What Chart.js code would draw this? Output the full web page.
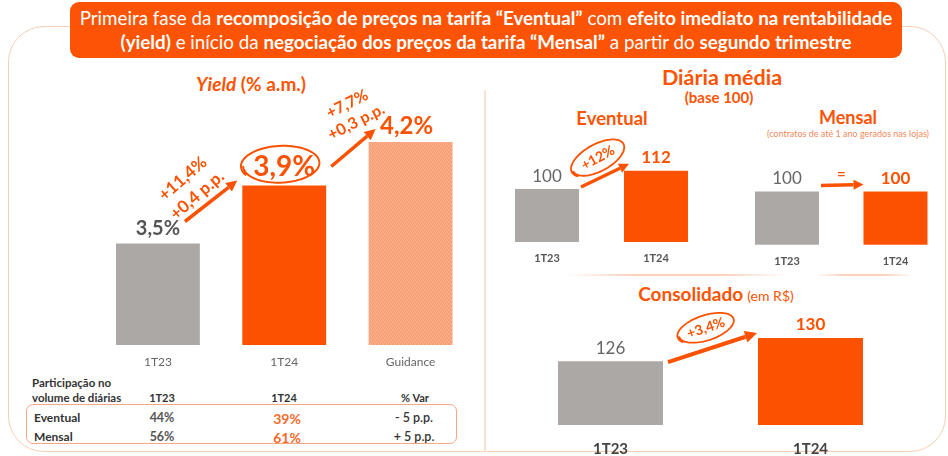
<!DOCTYPE html>
<html><head><meta charset="utf-8">
<script src="https://cdn.jsdelivr.net/npm/chart.js@4.4.1/dist/chart.umd.min.js"></script>
<style>
html,body{margin:0;padding:0;width:948px;height:456px;overflow:hidden;background:#fff;font-family:Lato,'Open Sans',sans-serif;}
#wrap{position:relative;width:948px;height:456px;overflow:hidden;}
.a{position:absolute;white-space:nowrap;}
.c{transform:translate(-50%,-50%);}
.l{transform:translate(0,-50%);}
#frame{left:8px;top:26px;width:938px;height:426px;border:1.5px solid #f7cfb4;border-radius:36px;box-sizing:border-box;}
#banner{left:70px;top:2px;width:832px;height:56px;background:#fc5404;border-radius:9px;color:#fff;text-align:center;font-size:18.8px;line-height:24px;padding-top:4px;box-sizing:border-box;}
#divider{left:484px;top:90px;width:1.5px;height:362px;background:#fde0d2;}
.sep{height:1.5px;background:linear-gradient(90deg,#fff,#fbd0bc 30%,#fbd0bc 70%,#fff);}
.or{color:#fc5404;}
.b{font-weight:bold;}
#tbox{left:26px;top:404px;width:431px;height:40px;border:1.5px solid #f6a886;border-radius:7px;box-sizing:border-box;}
.tb{font-size:11.5px;font-weight:bold;color:#333;}
.tv{font-size:12.5px;color:#555;font-weight:bold;}
canvas{position:absolute;}
</style></head>
<body><div id="wrap">
<div id="frame" class="a"></div>
<div id="banner" class="a">Primeira fase da <b>recomposição de preços na tarifa “Eventual”</b> com <b>efeito imediato na rentabilidade</b><br><b>(yield)</b> e início da <b>negociação dos preços da tarifa “Mensal”</b> a partir do <b>segundo trimestre</b></div>
<div id="divider" class="a"></div>
<div class="a sep" style="left:568px;top:274px;width:220px;"></div>
<div class="a sep" style="left:815px;top:274px;width:98px;"></div>

<div class="a c or b" style="left:251px;top:83px;font-size:19px;"><i>Yield</i> (% a.m.)</div>

<div class="a l tb" style="left:32px;top:382px;">Participação no</div>
<div class="a l tb" style="left:32px;top:397px;">volume de diárias</div>
<div class="a c tb" style="left:162px;top:397px;font-size:11px;" id="h1"></div>
<div class="a c tb" style="left:284px;top:397px;font-size:11px;" id="h2"></div>
<div class="a c tb" style="left:415px;top:397px;font-size:11px;">% Var</div>
<div id="tbox" class="a"></div>
<div id="trows"></div>

<div class="a c or b" style="left:722px;top:77px;font-size:21.5px;">Diária média</div>
<div class="a c or b" style="left:719px;top:97px;font-size:15px;">(base 100)</div>
<div class="a c or b" style="left:612px;top:118px;font-size:18.5px;">Eventual</div>
<div class="a c or b" style="left:848px;top:117px;font-size:18px;">Mensal</div>
<div class="a c" style="left:848px;top:133px;font-size:9px;color:#f4895a;">(contratos de até 1 ano gerados nas lojas)</div>
<div class="a c or" style="left:716px;top:293px;"><b style="font-size:19px;">Consolidado</b> <span style="font-size:14px;">(em R$)</span></div>

<canvas id="cYield" width="480" height="380" style="left:0;top:0;"></canvas>
<canvas id="cEvent" width="250" height="180" style="left:480px;top:100px;"></canvas>
<canvas id="cMensal" width="240" height="180" style="left:720px;top:100px;"></canvas>
<canvas id="cCons" width="440" height="186" style="left:490px;top:290px;"></canvas>
</div>
<script>
// ---- data ----
const yieldCategories = ['1T23', '1T24', 'Guidance'];
const yieldValues = [3.5, 3.9, 4.2];
const yieldChanges = [['+11,4%', '+0,4 p.p.'], ['+7,7%', '+0,3 p.p.']];
const diariaCategories = ['1T23', '1T24'];
const eventualValues = [100, 112];
const eventualChange = '+12%';
const mensalValues = [100, 100];
const mensalChange = '=';
const consolidadoCategories = ['1T23', '1T24'];
const consolidadoValues = [126, 130];
const consolidadoChange = '+3,4%';
const tableHeaders = ['1T23', '1T24'];
const tableRows = ['Eventual', 'Mensal'];
const share1T23 = ['44%', '56%'];
const share1T24 = ['39%', '61%'];
const shareVar = ['- 5 p.p.', '+ 5 p.p.'];

const ORANGE = '#fc5200', GRAY = '#aca8a6', FONT = 'Lato, "Open Sans", sans-serif';

// ---- table ----
document.getElementById('h1').textContent = tableHeaders[0];
document.getElementById('h2').textContent = tableHeaders[1];
(function () {
  const ys = [417, 436];
  let html = '';
  tableRows.forEach((r, i) => {
    html += `<div class="a l tb" style="left:34px;top:${ys[i]}px;font-size:12px;">${r}</div>`;
    html += `<div class="a c tv" style="left:162px;top:${ys[i]}px;">${share1T23[i]}</div>`;
    html += `<div class="a c b" style="left:287px;top:${ys[i] + 1}px;font-size:14px;color:#f56a2a;">${share1T24[i]}</div>`;
    html += `<div class="a c" style="left:414px;top:${ys[i]}px;font-size:12.5px;color:#333;font-weight:600;">${shareVar[i]}</div>`;
  });
  document.getElementById('trows').innerHTML = html;
})();

// ---- drawing helpers ----
function arrow(ctx, x1, y1, x2, y2, lw, hl, hw) {
  const a = Math.atan2(y2 - y1, x2 - x1);
  const bx = x2 - hl * Math.cos(a), by = y2 - hl * Math.sin(a);
  ctx.save(); ctx.strokeStyle = ORANGE; ctx.fillStyle = ORANGE; ctx.lineWidth = lw;
  ctx.beginPath(); ctx.moveTo(x1, y1); ctx.lineTo(bx, by); ctx.stroke();
  ctx.beginPath(); ctx.moveTo(x2, y2);
  ctx.lineTo(bx + hw / 2 * Math.sin(a), by - hw / 2 * Math.cos(a));
  ctx.lineTo(bx - hw / 2 * Math.sin(a), by + hw / 2 * Math.cos(a));
  ctx.closePath(); ctx.fill(); ctx.restore();
}
function handEllipse(ctx, cx, cy, rx, ry, rot, lw) {
  ctx.save(); ctx.translate(cx, cy); ctx.rotate(rot);
  ctx.strokeStyle = ORANGE; ctx.lineWidth = lw; ctx.lineCap = 'round'; ctx.beginPath();
  const a0 = Math.PI * 0.85, span = Math.PI * 2 + 0.45;
  for (let i = 0; i <= 80; i++) {
    const t = i / 80, a = a0 + span * t, s = 1 - 0.06 * t;
    const x = rx * s * Math.cos(a), y = ry * s * Math.sin(a);
    if (i === 0) ctx.moveTo(x, y); else ctx.lineTo(x, y);
  }
  ctx.stroke(); ctx.restore();
}
function rotText(ctx, lines, cx, cy, ang, spacing, font, color) {
  ctx.save(); ctx.translate(cx, cy); ctx.rotate(ang);
  ctx.font = font; ctx.fillStyle = color; ctx.textAlign = 'center'; ctx.textBaseline = 'middle';
  const n = lines.length;
  lines.forEach((t, i) => ctx.fillText(t, 0, (i - (n - 1) / 2) * spacing));
  ctx.restore();
}
function label(ctx, text, x, y, font, color) {
  ctx.save(); ctx.font = font; ctx.fillStyle = color; ctx.textAlign = 'center'; ctx.textBaseline = 'middle';
  ctx.fillText(text, x, y); ctx.restore();
}
const pct = v => v.toFixed(1).replace('.', ',') + '%';

// texture for guidance bar
function texture() {
  const c = document.createElement('canvas'); c.width = 4; c.height = 4;
  const g = c.getContext('2d'); g.fillStyle = '#f8a57e'; g.fillRect(0, 0, 4, 4);
  g.fillStyle = '#f49b72'; [[0, 0], [2, 1], [1, 3], [3, 2]].forEach(p => g.fillRect(p[0], p[1], 1, 1));
  g.fillStyle = '#fbb593'; [[1, 1], [3, 0], [0, 2], [2, 3]].forEach(p => g.fillRect(p[0], p[1], 1, 1));
  return g.createPattern(c, 'repeat');
}

function makeBar(id, labels, values, colors, o) {
  return new Chart(document.getElementById(id), {
    type: 'bar',
    data: { labels, datasets: [{ data: values, backgroundColor: colors, barPercentage: o.bp, categoryPercentage: 1, borderWidth: 0 }] },
    options: {
      responsive: false, animation: false,
      layout: { padding: o.pad },
      plugins: { legend: { display: false }, tooltip: { enabled: false } },
      scales: {
        x: { grid: { display: false, drawTicks: false }, border: { display: false },
             ticks: { color: o.tickColor, font: o.tickFont, padding: o.tickPad } },
        y: { display: false, min: o.min, max: o.max }
      }
    },
    plugins: [{ id: 'ann', afterDatasetsDraw(chart) { o.draw(chart.ctx, chart.getDatasetMeta(0).data); } }]
  });
}

// ---- Yield chart ----
makeBar('cYield', yieldCategories, yieldValues, [GRAY, ORANGE, texture()], {
  bp: 0.664, min: 2.8, max: 4.5,
  pad: { left: 94.75, right: 6.25, top: 98.5, bottom: 0.6 },
  tickColor: '#666', tickFont: { family: FONT, size: 12 }, tickPad: 10,
  draw(ctx, b) {
    label(ctx, pct(yieldValues[0]), b[0].x, b[0].y - 15, 'bold 20px ' + FONT, '#555');
    label(ctx, pct(yieldValues[1]), b[1].x, b[1].y - 19, 'bold 28px ' + FONT, ORANGE);
    label(ctx, pct(yieldValues[2]), b[2].x - 4, b[2].y - 16, 'bold 24px ' + FONT, ORANGE);
    handEllipse(ctx, b[1].x - 3.5, b[1].y - 21, 40, 19, -0.05, 2);
    arrow(ctx, b[0].x + 27, b[0].y - 22, b[1].x - 47, b[1].y - 5, 3.5, 11, 11);
    rotText(ctx, yieldChanges[0], b[0].x + 32, b[1].y + 1.5, -41 * Math.PI / 180, 22, 'bold 17px ' + FONT, ORANGE);
    arrow(ctx, b[1].x + 47, b[1].y - 19, b[2].x - 35, b[2].y - 13, 3.5, 11, 11);
    rotText(ctx, yieldChanges[1], b[1].x + 67.5, b[2].y - 29, -27 * Math.PI / 180, 20, 'bold 16px ' + FONT, ORANGE);
  }
});

// ---- Eventual chart ----
makeBar('cEvent', diariaCategories, eventualValues, [GRAY, ORANGE], {
  bp: 0.587, min: 65, max: 139,
  pad: { left: 12.5, right: 19.5, top: 30, bottom: 4.8 },
  tickColor: '#555', tickFont: { family: FONT, size: 11, weight: 'bold' }, tickPad: 10,
  draw(ctx, b) {
    label(ctx, String(eventualValues[0]), b[0].x, b[0].y - 13, '17px ' + FONT, '#666');
    label(ctx, String(eventualValues[1]), b[1].x, b[1].y - 13, 'bold 17px ' + FONT, ORANGE);
    arrow(ctx, b[0].x + 34, b[0].y - 2, b[1].x - 27, b[1].y - 7, 3.5, 10, 10);
    handEllipse(ctx, b[0].x + 51, b[1].y - 13, 30, 14, -0.5, 1.8);
    rotText(ctx, [eventualChange], b[0].x + 51, b[1].y - 13, -0.5, 0, 'bold 14px ' + FONT, ORANGE);
  }
});

// ---- Mensal chart ----
makeBar('cMensal', diariaCategories, mensalValues, [GRAY, ORANGE], {
  bp: 0.59, min: 65, max: 140,
  pad: { left: 12.75, right: 10.25, top: 30.5, bottom: 2 },
  tickColor: '#555', tickFont: { family: FONT, size: 11, weight: 'bold' }, tickPad: 10,
  draw(ctx, b) {
    label(ctx, String(mensalValues[0]), b[0].x, b[0].y - 13, '17px ' + FONT, '#666');
    label(ctx, String(mensalValues[1]), b[1].x, b[1].y - 13, 'bold 17px ' + FONT, ORANGE);
    arrow(ctx, b[0].x + 34, b[0].y - 6, b[1].x - 32, b[1].y - 7, 3.5, 10, 10);
    label(ctx, mensalChange, (b[0].x + b[1].x) / 2, b[0].y - 17, 'bold 15px ' + FONT, ORANGE);
  }
});

// ---- Consolidado chart ----
makeBar('cCons', consolidadoCategories, consolidadoValues, [GRAY, ORANGE], {
  bp: 0.525, min: 115, max: 135,
  pad: { left: 20.5, right: 19.5, top: 19, bottom: 3 },
  tickColor: '#444', tickFont: { family: FONT, size: 15, weight: 'bold' }, tickPad: 15,
  draw(ctx, b) {
    label(ctx, String(consolidadoValues[0]), b[0].x, b[0].y - 13, '17px ' + FONT, '#666');
    label(ctx, String(consolidadoValues[1]), b[1].x, b[1].y - 13, 'bold 17px ' + FONT, ORANGE);
    arrow(ctx, b[0].x + 57.5, b[0].y + 1, b[1].x - 53.5, b[1].y - 5, 4, 12, 12);
    handEllipse(ctx, b[0].x + 95.5, b[1].y - 10, 30, 13, -0.32, 1.8);
    rotText(ctx, [consolidadoChange], b[0].x + 95.5, b[1].y - 10, -0.32, 0, 'bold 14px ' + FONT, ORANGE);
  }
});
</script>
</body></html>
